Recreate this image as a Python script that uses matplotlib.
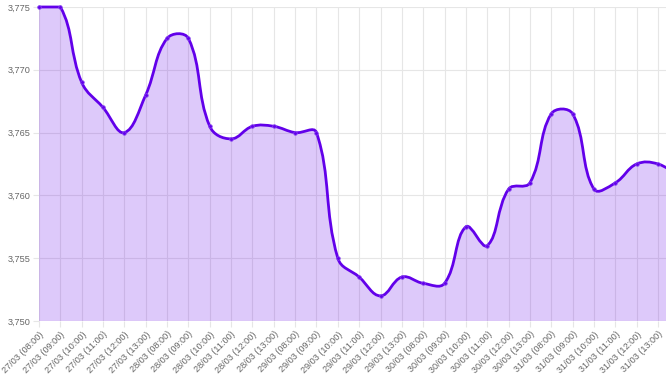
import matplotlib
matplotlib.use("Agg")
import matplotlib.pyplot as plt
import numpy as np
from matplotlib.path import Path
from matplotlib.patches import PathPatch
from matplotlib.ticker import FuncFormatter, MultipleLocator

days = ["27/03", "28/03", "29/03", "30/03", "31/03"]
hours = ["08:00", "09:00", "10:00", "11:00", "12:00", "13:00"]
labels = [f"{d} ({h})" for d in days for h in hours]

values = [3.775, 3.775, 3.769, 3.767, 3.765, 3.768,
          3.7725, 3.7725, 3.7655, 3.7645, 3.7655, 3.7655,
          3.765, 3.765, 3.755, 3.7535, 3.752, 3.7535,
          3.753, 3.753, 3.7575, 3.756, 3.7605, 3.761,
          3.7665, 3.7665, 3.7605, 3.761, 3.7625, 3.7625,
          3.7615]  # last point continues past the visible edge

line_color = "#6200ea"
fill_color = (98/255, 0, 234/255, 0.21)
grid_color = "#e6e6e6"
text_color = "#666666"

W, H = 666, 378
fig = plt.figure(figsize=(W/100, H/100), dpi=100)
ax = fig.add_axes([39/W, (H-321)/H, 1 - 39/W, (321-7)/H])
ax.set_xlim(0, 29 + 8/21.345)
ax.set_ylim(3.750, 3.775)

ax.set_xticks(range(len(labels)))
ax.set_xticklabels(labels, rotation=45, ha="right", rotation_mode="anchor",
                   fontsize=6.6, color=text_color, family="Liberation Sans")
ax.yaxis.set_major_locator(MultipleLocator(0.005))
ax.yaxis.set_major_formatter(FuncFormatter(lambda v, p: f"{v:.3f}".replace(".", ",")))
for t in ax.get_yticklabels():
    t.set_family("Liberation Sans")
ax.tick_params(axis="y", labelsize=6.6, labelcolor=text_color, color=grid_color,
               length=4.3, width=0.8, pad=1.5)
ax.tick_params(axis="x", color=grid_color, length=4.3, width=0.8, pad=2)
ax.grid(True, color=grid_color, linewidth=0.8)
ax.set_axisbelow(True)
for s in ax.spines.values():
    s.set_visible(False)

# Chart.js-style bezier spline (tension 0.4), computed in pixel space
xs = np.arange(len(values), dtype=float)
pts = ax.transData.transform(np.column_stack([xs, values]))
n = len(pts)
t = 0.4
cp_prev = np.zeros_like(pts)
cp_next = np.zeros_like(pts)
top_px = ax.transData.transform((0, 3.775))[1]
bot_px = ax.transData.transform((0, 3.750))[1]
for i in range(n):
    cur = pts[i]
    prv = pts[i-1] if i > 0 else cur
    nxt = pts[i+1] if i < n-1 else cur
    d01 = np.hypot(*(cur - prv))
    d12 = np.hypot(*(nxt - cur))
    tot = d01 + d12
    s01 = d01/tot if tot else 0
    s12 = d12/tot if tot else 0
    cp_prev[i] = cur - t*s01*(nxt - prv)
    cp_next[i] = cur + t*s12*(nxt - prv)
lo, hi = min(top_px, bot_px), max(top_px, bot_px)
cp_prev[:, 1] = np.clip(cp_prev[:, 1], lo, hi)
cp_next[:, 1] = np.clip(cp_next[:, 1], lo, hi)

inv = ax.transData.inverted()
P = inv.transform(pts)
CP = inv.transform(cp_prev)
CN = inv.transform(cp_next)
verts = [P[0]]
codes = [Path.MOVETO]
for i in range(1, n):
    verts += [CN[i-1], CP[i], P[i]]
    codes += [Path.CURVE4]*3
line_path = Path(verts, codes)
fill_verts = verts + [(P[-1][0], 3.750), (P[0][0], 3.750), P[0]]
fill_codes = codes + [Path.LINETO, Path.LINETO, Path.CLOSEPOLY]
ax.add_patch(PathPatch(Path(fill_verts, fill_codes), facecolor=fill_color,
                       edgecolor="none", zorder=2))
ax.add_patch(PathPatch(line_path, facecolor="none", edgecolor=line_color,
                       linewidth=2.0, zorder=3, clip_on=False, capstyle="round"))
ax.plot(xs, values, "o", color=line_color, markersize=2.6,
        markeredgecolor="#8a4cf0", markeredgewidth=0.5, zorder=4, clip_on=False)

fig.savefig("out.png", dpi=100)
